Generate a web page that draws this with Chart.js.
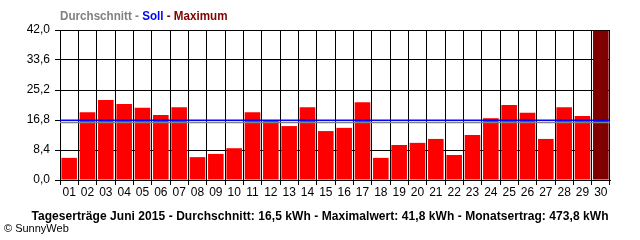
<!DOCTYPE html>
<html><head><meta charset="utf-8">
<script src="https://cdn.jsdelivr.net/npm/chart.js@4.4.0/dist/chart.umd.min.js"></script>
<style>
body{margin:0;background:#fff;font-family:"Liberation Sans",Arial,sans-serif}
#wrap{position:relative;width:640px;height:240px}
#legend{position:absolute;left:60px;top:9px;font-size:12px;font-weight:bold;white-space:nowrap;transform:scaleX(.97);transform-origin:left}
#caption{position:absolute;left:0;width:640px;top:209px;text-align:center;font-size:12px;font-weight:bold;white-space:nowrap;letter-spacing:.06px}
#copy{position:absolute;left:4px;top:222px;font-size:11px;white-space:nowrap}
</style></head>
<body>
<div id="wrap">
<canvas id="c" width="640" height="240"></canvas>
<div id="legend"><span style="color:#808080">Durchschnitt - </span><span style="color:#0000ff">Soll</span><span style="color:#800000"> - Maximum</span></div>
<div id="caption">Tageserträge Juni 2015 - Durchschnitt: 16,5 kWh - Maximalwert: 41,8 kWh - Monatsertrag: 473,8 kWh</div>
<div id="copy">© SunnyWeb</div>
</div>
<script>
// daily yields June 2015 (kWh)
const days=['01','02','03','04','05','06','07','08','09','10','11','12','13','14','15','16','17','18','19','20','21','22','23','24','25','26','27','28','29','30'];
const yields=[6.2,19.0,22.4,21.3,20.2,18.2,20.4,6.4,7.3,8.9,19.0,16.7,15.1,20.4,13.7,14.6,21.8,6.2,9.8,10.4,11.5,7.0,12.6,17.3,21.0,18.8,11.5,20.4,17.9,41.8];
const yTicks=[0,8.4,16.8,25.2,33.6,42];
const soll=16.75;
const avg=16.1;

const maxV=Math.max(...yields);
const barColors=yields.map(v=>v===maxV?'#800000':'#ff0000');
const span=[-0.5,days.length-0.5];

new Chart(document.getElementById('c'),{
  type:'bar',
  data:{labels:days,datasets:[
    {label:'Ertrag',data:yields,xAxisID:'x',grouped:false,backgroundColor:barColors,barPercentage:0.85,categoryPercentage:1,order:2},
    {type:'line',label:'Soll',data:span.map(x=>({x,y:soll})),xAxisID:'x2',borderColor:'#0000ff',borderWidth:1.6,pointRadius:0,order:0},
    {type:'line',label:'Durchschnitt',data:span.map(x=>({x,y:avg})),xAxisID:'x2',borderColor:'#808080',borderWidth:1.6,pointRadius:0,order:1}
  ]},
  options:{
    responsive:false,animation:false,
    layout:{padding:{top:30,right:30,bottom:40,left:0}},
    plugins:{legend:{display:false},tooltip:{enabled:false}},
    scales:{
      x:{type:'category',offset:true,grid:{color:'#000',lineWidth:1,tickLength:5,offset:true},border:{color:'#000'},
        ticks:{color:'#000',font:{size:12,family:'"Liberation Sans",Arial'},padding:0,maxRotation:0,autoSkip:false},
        afterFit:s=>{s.height=20;}},
      x2:{type:'linear',min:span[0],max:span[1],offset:false,display:false,grid:{offset:false}},
      y:{min:0,max:42,grid:{color:'#000',lineWidth:1,tickLength:5},border:{color:'#000'},
        afterBuildTicks:s=>{s.ticks=yTicks.map(v=>({value:v}));},
        ticks:{color:'#000',padding:5,font:{size:12,family:'"Liberation Sans",Arial'},callback:v=>v.toFixed(1).replace('.',',')},
        afterFit:s=>{s.width=60;}}
    }
  }
});
</script>
</body></html>
